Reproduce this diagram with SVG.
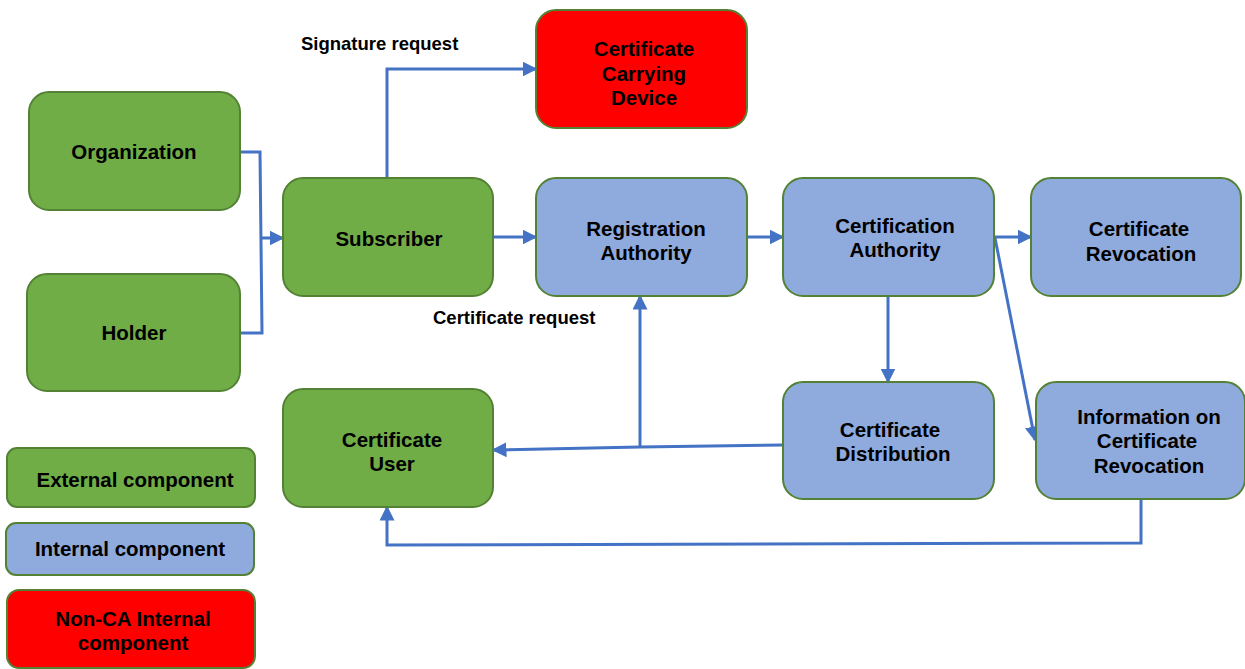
<svg xmlns="http://www.w3.org/2000/svg" width="1245" height="669" viewBox="0 0 1245 669">
<defs>
<marker id="ah" viewBox="0 0 10 10" refX="9" refY="5" markerWidth="5" markerHeight="5" orient="auto" markerUnits="strokeWidth">
<path d="M0,0 L10,5 L0,10 z" fill="#4472C4"/>
</marker>
<style>
.ext{fill:#70AD47;stroke:#548235;stroke-width:2}
.int{fill:#8FAADC;stroke:#548235;stroke-width:2}
.red{fill:#FF0000;stroke:#548235;stroke-width:2}
text{font-family:"Liberation Sans",Arial,sans-serif;font-weight:bold;font-size:20.5px;fill:#000;text-anchor:middle}
.lbl{font-size:18.5px;text-anchor:start}
.c{fill:none;stroke:#4472C4;stroke-width:3}
.a{marker-end:url(#ah)}
</style>
</defs>
<rect width="1245" height="669" fill="#fff"/>
<g id="connectors">
<polyline class="c" points="240,152 260,152 262,333 240,333"/>
<line class="c a" x1="261" y1="238" x2="283" y2="238"/>
<polyline class="c a" points="387,178 387,69 536,69"/>
<line class="c a" x1="493" y1="237" x2="536" y2="237"/>
<line class="c a" x1="747" y1="237" x2="783" y2="237"/>
<line class="c a" x1="989" y1="237" x2="1031" y2="237"/>
<line class="c a" x1="995" y1="238" x2="1035" y2="440"/>
<line class="c a" x1="888" y1="296" x2="888" y2="382"/>
<polyline class="c a" points="783,445 640,447 493,450"/>
<line class="c a" x1="640" y1="447" x2="640" y2="296"/>
<polyline class="c a" points="1141,499 1141,543 387,545 387,507"/>
</g>
<g id="organization"><rect class="ext" x="29" y="92" width="211" height="118" rx="20"/><text x="134" y="159">Organization</text></g>
<g id="holder"><rect class="ext" x="27" y="274" width="213" height="117" rx="20"/><text x="134" y="340">Holder</text></g>
<g id="subscriber"><rect class="ext" x="283" y="178" width="210" height="118" rx="20"/><text x="389" y="246">Subscriber</text></g>
<g id="ccd"><rect class="red" x="536" y="10" width="211" height="118" rx="20"/><text x="644" y="56">Certificate</text><text x="644" y="81">Carrying</text><text x="644" y="105">Device</text></g>
<g id="ra"><rect class="int" x="536" y="178" width="211" height="118" rx="20"/><text x="646" y="236">Registration</text><text x="646" y="260">Authority</text></g>
<g id="ca"><rect class="int" x="783" y="178" width="211" height="118" rx="20"/><text x="895" y="233">Certification</text><text x="895" y="257">Authority</text></g>
<g id="cr"><rect class="int" x="1031" y="178" width="210" height="118" rx="20"/><text x="1139" y="236">Certificate</text><text x="1141" y="261">Revocation</text></g>
<g id="cu"><rect class="ext" x="283" y="389" width="210" height="118" rx="20"/><text x="392" y="447">Certificate</text><text x="392" y="471">User</text></g>
<g id="cd"><rect class="int" x="783" y="382" width="211" height="117" rx="20"/><text x="890" y="437">Certificate</text><text x="893" y="461">Distribution</text></g>
<g id="icr"><rect class="int" x="1036" y="382" width="209" height="117" rx="20"/><text x="1149" y="424">Information on</text><text x="1147" y="448">Certificate</text><text x="1149" y="473">Revocation</text></g>
<g id="legend-ext"><rect class="ext" x="7" y="448" width="248" height="59" rx="10"/><text x="135" y="487">External component</text></g>
<g id="legend-int"><rect class="int" x="6" y="523" width="248" height="52" rx="10"/><text x="130" y="556">Internal component</text></g>
<g id="legend-red"><rect class="red" x="7" y="590" width="248" height="78" rx="12"/><text x="133" y="626">Non-CA Internal</text><text x="133" y="650">component</text></g>
<g id="labels">
<text class="lbl" x="301" y="50">Signature request</text>
<text class="lbl" x="433" y="324">Certificate request</text>
</g>
</svg>
